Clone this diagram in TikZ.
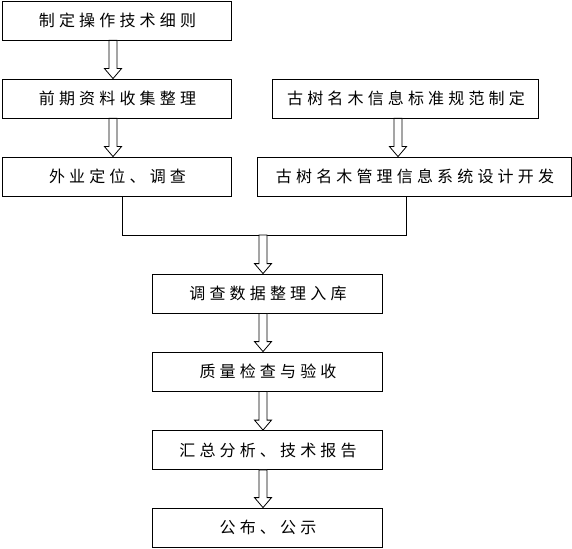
\documentclass[tikz,border=0pt]{standalone}
\usepackage{fontspec}
\usepackage{tikz}
\usetikzlibrary{calc}
\newfontfamily\cjk[LetterSpace=26]{Noto Sans CJK SC}

% hollow down arrow from #1 to #2
\newcommand{\hollowarrow}[2]{%
  \draw[hollow] let \p1=(#1), \p2=(#2) in
    (\x1-4pt,\y1) -- (\x1-4pt,\y2+10pt) -- (\x1-8.5pt,\y2+10pt) -- (\x1,\y2)
    -- (\x1+8.5pt,\y2+10pt) -- (\x1+4pt,\y2+10pt) -- (\x1+4pt,\y1) -- cycle;}

\begin{document}
\begin{tikzpicture}[x=1pt, y=-1pt,
    stepbox/.style={draw, line width=0.8pt, minimum height=39pt, inner sep=0pt,
        font=\cjk\fontsize{16}{19}\selectfont},
    hollow/.style={draw, line width=0.8pt, fill=white},
    link/.style={draw, line width=0.8pt}]
        \useasboundingbox (0,0) rectangle (572,548);
        % left column
        \node[stepbox, minimum width=229pt] (rule) at (116.5,20.5) {\hspace{2pt}制定操作技术细则};
        \node[stepbox, minimum width=229pt] (data) at (116.5,98.5) {\hspace{2pt}前期资料收集整理};
        \node[stepbox, minimum width=229pt] (field) at (116.5,176.5) {\hspace{2pt}外业定位、调查};
        % right column
        \node[stepbox, minimum width=266pt] (std) at (405,98.5) {\hspace{2pt}古树名木信息标准规范制定};
        \node[stepbox, minimum width=314pt] (sys) at (414,176.5) {\hspace{2pt}古树名木管理信息系统设计开发};
        % main column
        \node[stepbox, minimum width=230pt] (db) at (267,293.5) {\hspace{2pt}调查数据整理入库};
        \node[stepbox, minimum width=230pt] (qc) at (267,371.5) {\hspace{2pt}质量检查与验收};
        \node[stepbox, minimum width=230pt] (sum) at (267,450) {\hspace{2pt}汇总分析、技术报告};
        \node[stepbox, minimum width=230pt] (pub) at (267,527.5) {\hspace{2pt}公布、公示};

        \coordinate (ax) at (113,0);
        \coordinate (bx) at (398,0);
        \coordinate (cx) at (263,0);
        \coordinate (jl) at (122,235);
        \coordinate (jr) at (406,235);

        \hollowarrow{ax |- rule.south}{ax |- data.north}
        \hollowarrow{ax |- data.south}{ax |- field.north}
        \hollowarrow{bx |- std.south}{bx |- sys.north}

        % join
        \draw[link] (jl |- field.south) -- (jl) -- (jr) -- (jr |- sys.south);
        \hollowarrow{cx |- jl}{cx |- db.north}

        \hollowarrow{cx |- db.south}{cx |- qc.north}
        \hollowarrow{cx |- qc.south}{cx |- sum.north}
        \hollowarrow{cx |- sum.south}{cx |- pub.north}
    \end{tikzpicture}
\end{document}
